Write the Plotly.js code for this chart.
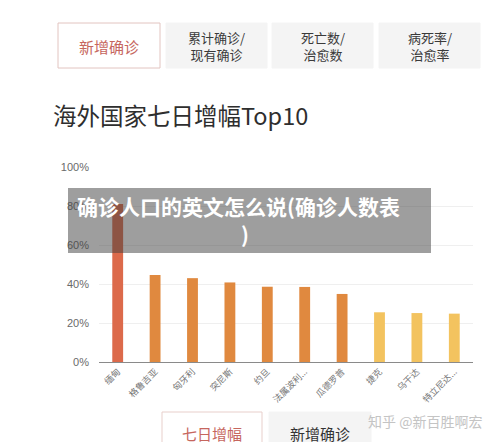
<!DOCTYPE html>
<html><head><meta charset="utf-8">
<script src="https://cdn.plot.ly/plotly-3.0.1.min.js"></script>
<style>html,body{margin:0;padding:0;background:#fff;}#chart{width:500px;height:442px;}</style>
</head><body><div id="chart"></div>
<script>
const countries = ['缅甸','格鲁吉亚','匈牙利','突尼斯','约旦','法属波利...','瓜德罗普','捷克','乌干达','特立尼达...'];
const growth = [81, 44.6, 43, 40.8, 38.6, 38.5, 34.9, 25.5, 25.1, 24.8];
const barColors = ['#dc6a4b','#e0893f','#e0893f','#e0893f','#e0893f','#e0893f','#e0893f','#f3c35f','#f3c35f','#f3c35f'];
const yTicks = [0, 20, 40, 60, 80, 100];
const chartTitle = '海外国家七日增幅Top10';
const topTabs = ['新增确诊', '累计确诊/<br>现有确诊', '死亡数/<br>治愈数', '病死率/<br>治愈率'];
const bottomTabs = ['七日增幅', '新增确诊'];
const overlayLine1 = '确诊人口的英文怎么说(确诊人数表';
const overlayLine2 = ')';
const watermark = '知乎 @新百胜啊宏';

const W = 500, H = 442, L = 99, R = 27, T = 167, B = 80;
const pw = W - L - R, ph = H - T - B;
const px = x => (x - L) / pw;
const py = y => (H - B - y) / ph;
const font = '"Noto Sans CJK SC", "Noto Sans", sans-serif';

const shapes = [];
const annotations = [];
// top tabs
const tabX = [[58,160],[166,267],[272,373],[379,480]];
tabX.forEach((t, i) => {
  shapes.push({type:'rect', xref:'paper', yref:'paper', x0:px(t[0]), x1:px(t[1]), y0:py(68), y1:py(23),
    fillcolor: i === 0 ? '#ffffff' : '#f4f4f4', line:{color: i === 0 ? '#e2c4c0' : '#f4f4f4', width:1}, layer:'below'});
  annotations.push({xref:'paper', yref:'paper', x:px((t[0]+t[1])/2), y:py(46), xanchor:'center', yanchor:'middle',
    text: topTabs[i], showarrow:false, align:'center',
    font:{family:font, size: i === 0 ? 15 : 13, color: i === 0 ? '#c6665e' : '#3a3a3a'}});
});
// bottom tabs
const bTabX = [[162,262],[269,371]];
bTabX.forEach((t, i) => {
  shapes.push({type:'rect', xref:'paper', yref:'paper', x0:px(t[0]), x1:px(t[1]), y0:py(450), y1:py(412),
    fillcolor: i === 0 ? '#ffffff' : '#f4f4f4', line:{color: i === 0 ? '#e8cfcb' : '#f4f4f4', width:1}, layer:'below'});
  annotations.push({xref:'paper', yref:'paper', x:px((t[0]+t[1])/2), y:py(433), xanchor:'center', yanchor:'middle',
    text: bottomTabs[i], showarrow:false,
    font:{family:font, size:15, color: i === 0 ? '#c6665e' : '#333333'}});
});
// title
annotations.push({xref:'paper', yref:'paper', x:px(51), y:py(115), xanchor:'left', yanchor:'middle',
  text: chartTitle, showarrow:false, font:{family:font, size:23.5, color:'#2e2e2e'}});
// watermark
annotations.push({xref:'paper', yref:'paper', x:px(425), y:py(421), xanchor:'center', yanchor:'middle',
  text: watermark, showarrow:false, font:{family:font, size:14, color:'#c4c4c4'}});
// overlay
shapes.push({type:'rect', xref:'paper', yref:'paper', x0:px(68), x1:px(431), y0:py(253), y1:py(188),
  fillcolor:'rgba(62,62,62,0.5)', line:{width:0}, layer:'above'});
annotations.push({xref:'paper', yref:'paper', x:px(238), y:py(206), xanchor:'center', yanchor:'middle',
  text: '<b>' + overlayLine1 + '</b>', showarrow:false, font:{family:font, size:21, color:'#ffffff'}});
annotations.push({xref:'paper', yref:'paper', x:px(245), y:py(234), xanchor:'center', yanchor:'middle',
  text: '<b>' + overlayLine2 + '</b>', showarrow:false, font:{family:font, size:21, color:'#ffffff'}});

const data = [{
  type:'bar', x: countries, y: growth, marker:{color: barColors, line:{width:0}}, width:0.29,
  hoverinfo:'none'
}];
const layout = {
  width:W, height:H, margin:{l:L, r:R, t:T, b:B}, paper_bgcolor:'#ffffff', plot_bgcolor:'#ffffff',
  showlegend:false,
  xaxis:{type:'category', tickangle:-45, tickfont:{family:font, size:9, color:'#777'}, showgrid:false,
    showline:true, linecolor:'#8a8a8a', linewidth:1, ticks:'', zeroline:false, fixedrange:true},
  yaxis:{range:[0,100], tickvals:yTicks, ticktext: yTicks.map(v => v + '%'), tickfont:{family:'"Liberation Sans", Arial, sans-serif', size:11, color:'#6a6a6a'},
    showgrid:true, gridcolor:'#efefef', gridwidth:1, zeroline:false, showline:false, ticks:'', ticklabelstandoff:9, fixedrange:true},
  shapes, annotations
};
Plotly.newPlot('chart', data, layout, {displayModeBar:false, staticPlot:true});
</script></body></html>
